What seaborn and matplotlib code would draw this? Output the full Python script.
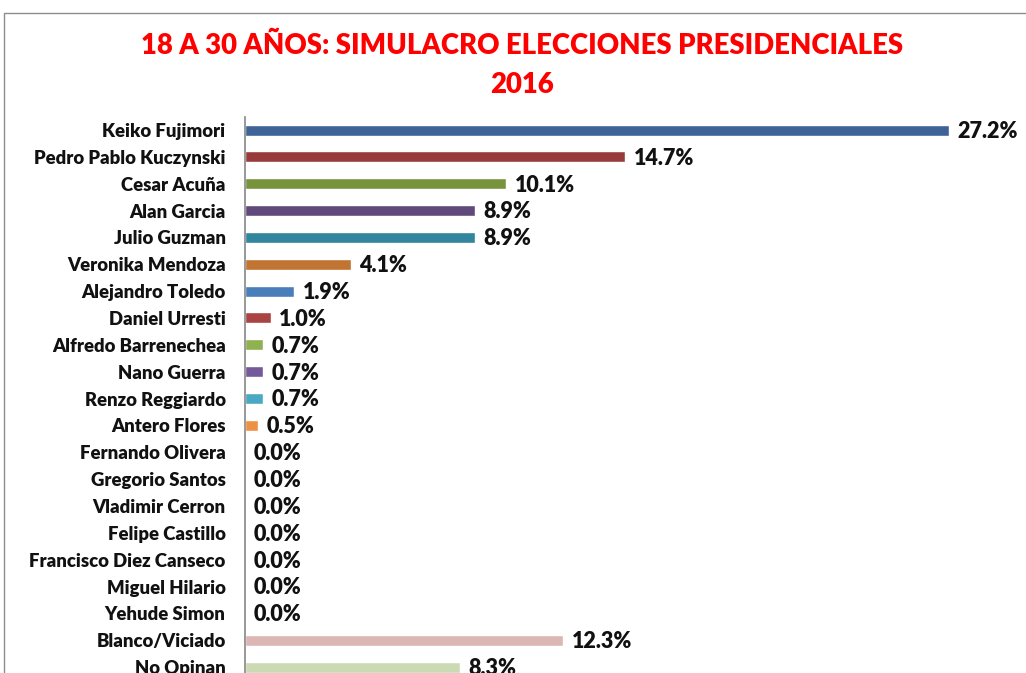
import matplotlib
matplotlib.use("Agg")
import matplotlib.pyplot as plt
import matplotlib.patches as mpatches
import seaborn as sns
import pandas as pd

candidates = [
    "Keiko Fujimori", "Pedro Pablo Kuczynski", "Cesar Acuña", "Alan Garcia",
    "Julio Guzman", "Veronika Mendoza", "Alejandro Toledo", "Daniel Urresti",
    "Alfredo Barrenechea", "Nano Guerra", "Renzo Reggiardo", "Antero Flores",
    "Fernando Olivera", "Gregorio Santos", "Vladimir Cerron", "Felipe Castillo",
    "Francisco Diez Canseco", "Miguel Hilario", "Yehude Simon",
    "Blanco/Viciado", "No Opinan",
]
percent = [27.2, 14.7, 10.1, 8.9, 8.9, 4.1, 1.9, 1.0, 0.7, 0.7, 0.7, 0.5,
           0.0, 0.0, 0.0, 0.0, 0.0, 0.0, 0.0, 12.3, 8.3]
bar_colors = [
    "#3E6497", "#973C3B", "#77933C", "#604A7C", "#31859C", "#C27433",
    "#4A7EBB", "#A94442", "#8FB150", "#745A99", "#4AA8C2", "#EE9144",
    "#4F81BD", "#C0504D", "#9BBB59", "#8064A2", "#4BACC6", "#F79646",
    "#3E6497", "#DCB6B5", "#CCDAB4",
]

df = pd.DataFrame({"candidato": candidates, "pct": percent})

sns.set_theme(style="white")
plt.rcParams["font.family"] = ["Lato", "DejaVu Sans"]

fig = plt.figure(figsize=(10.26, 6.73), dpi=100)
W, H = 1026, 673
left, right = 245, 1021
top, bottom = 116.6, 680.5
ax = fig.add_axes([left / W, (H - bottom) / H, (right - left) / W, (bottom - top) / H])

sns.barplot(data=df, y="candidato", x="pct", hue="candidato",
            palette=bar_colors, orient="h", width=0.41, legend=False,
            saturation=1, ax=ax)

ax.set_xlim(0, 30)
ax.set_ylim(len(candidates) - 0.5, -0.5)
ax.set_xlabel("")
ax.set_ylabel("")
ax.set_xticks([])
for s in ["top", "right", "bottom"]:
    ax.spines[s].set_visible(False)
ax.spines["left"].set_color("#868686")
ax.spines["left"].set_linewidth(1.2)
ax.tick_params(axis="y", length=0, pad=14)
for lbl in ax.get_yticklabels():
    lbl.set_fontweight("heavy")
    lbl.set_fontsize(13.3)
    lbl.set_color("#111111")

for i, v in enumerate(percent):
    ax.annotate(f"{v:.1f}%", xy=(v, i), xytext=(6, -1), textcoords="offset points",
                ha="left", va="center", fontsize=15.5, fontweight="heavy",
                color="#111111")

fig.text(522 / W, 1 - 46 / H, "18 A 30 AÑOS: SIMULACRO ELECCIONES PRESIDENCIALES",
         ha="center", va="center", color="#FF0000", fontsize=19.8, fontweight="heavy")
fig.text(522 / W, 1 - 85 / H, "2016",
         ha="center", va="center", color="#FF0000", fontsize=19.8, fontweight="heavy")

# outer chart frame
fig.patches.append(mpatches.Rectangle((4 / W, -0.1), 1.2, (H - 13) / H + 0.1,
                                      transform=fig.transFigure, fill=False,
                                      edgecolor="#8c8c8c", linewidth=1.0))

fig.savefig("out.png", dpi=100)
